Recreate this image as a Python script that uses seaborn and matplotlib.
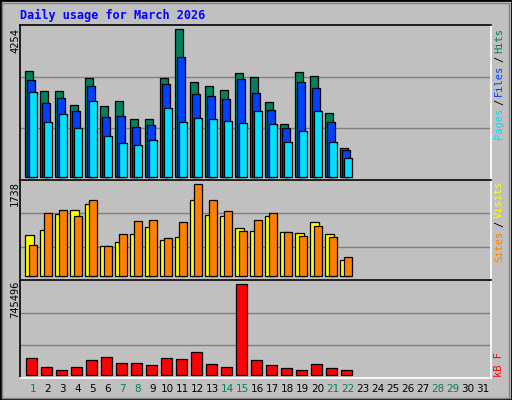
import matplotlib
matplotlib.use("Agg")
import matplotlib.pyplot as plt
import seaborn as sns
import numpy as np
import pandas as pd
from matplotlib.patches import Rectangle

days = list(range(1, 32))
hits = [3041, 2464, 2464, 2060, 2839, 2031, 2175, 1655, 1655, 2839, 4254, 2724, 2608, 2493, 2983, 2868, 2146, 1511, 3012, 2897, 1829, 818]
files = [2781, 2117, 2262, 1886, 2608, 1713, 1742, 1424, 1482, 2666, 3445, 2377, 2319, 2233, 2810, 2406, 1915, 1395, 2724, 2550, 1569, 760]
pages = [2435, 1569, 1800, 1395, 2175, 1165, 962, 905, 1049, 1973, 1569, 1684, 1655, 1598, 1540, 1886, 1511, 991, 1309, 1886, 991, 529]
visits = [775, 869, 1171, 1247, 1360, 567, 642, 793, 926, 680, 737, 1436, 1152, 1133, 907, 850, 1133, 831, 812, 1020, 793, 302]
sites = [586, 1190, 1247, 1133, 1436, 567, 793, 1039, 1058, 718, 1020, 1738, 1436, 1228, 850, 1058, 1190, 831, 756, 945, 737, 359]
kbytes = [139270, 65539, 40962, 65539, 122886, 147463, 98309, 98309, 81924, 139270, 131078, 188424, 90117, 65539, 745496, 122886, 81924, 57347, 40962, 90117, 57347, 40962]
weekend = [1, 7, 8, 14, 15, 21, 22, 28, 29]

sns.set_style("white")
plt.rcParams['font.family'] = ['DejaVu Sans Mono', 'DejaVu Sans']
BG = "#C0C0C0"
fig = plt.figure(figsize=(5.12, 4.0), dpi=100, facecolor=BG)
fig.patches.append(Rectangle((0, 0), 1, 1, transform=fig.transFigure, fill=False, edgecolor="black", lw=2))
fig.patches.append(Rectangle((0.004, 0.006), 0.99, 0.986, transform=fig.transFigure, fill=False, edgecolor="#808080", lw=1))

L, W = 20/512, 471/512
ax1 = fig.add_axes([L, 1-180/400, W, 155/400])
ax2 = fig.add_axes([L, 1-280/400, W, 100/400])
ax3 = fig.add_axes([L, 1-378/400, W, 98/400])
xl = (-0.353, -0.353 + 471/15)

n = len(hits)
x0 = np.arange(n)
def bars(ax, off, w, vals, color):
    ax.bar(x0 + off, vals, width=w, align='edge', color=color, edgecolor="black", linewidth=0.9, zorder=3)

bars(ax1, 0.0, 0.49, hits, "#00805C")
bars(ax1, 0.13, 0.49, files, "#0040FF")
bars(ax1, 0.27, 0.49, pages, "#00E0FF")
ax1.set_ylim(-95, 4378)
bars(ax2, 0.0, 0.55, visits, "#FFFF00")
bars(ax2, 0.8, 0.49, sites, "#FF8000") if False else bars(ax2, 0.27 + 0.53, 0.49, sites, "#FF8000") if False else bars(ax2, 0.8 - 0.53, 0.49, sites, "#FF8000")
ax2.set_ylim(-70, 1819)

df = pd.DataFrame({"x": x0 + 0.07 + 0.34, "kb": kbytes})
sns.barplot(data=df, x="x", y="kb", native_scale=True, width=0.68, color="#FF0000",
            edgecolor="black", linewidth=0.9, saturation=1, ax=ax3, zorder=3)
ax3.set_ylim(-22120, 780722)

for ax in (ax1, ax2, ax3):
    ax.set_facecolor(BG)
    ax.set_xlim(*xl)
    ax.set_xticks([]); ax.set_yticks([])
    ax.set_xlabel(""); ax.set_ylabel("")
    for f in (1/3, 2/3):
        ax.plot([0, 1], [f, f], transform=ax.transAxes, color="#808080", lw=1, zorder=1)
    for s in ("top", "left"):
        ax.spines[s].set_color("black")
    for s in ("bottom", "right"):
        ax.spines[s].set_color("white")
    for s in ax.spines.values():
        s.set_linewidth(1.2)

fig.text(20/512, 1-15/400, "Daily usage for March 2026", color="#0000FF", fontsize=8.5,
         fontweight="bold", va="center", ha="left")

def ltxt(y, s):
    fig.text(15/512, 1-y/400, s, rotation=90, ha="center", va="top", fontsize=7.5, color="black")
ltxt(28, "4254"); ltxt(181, "1738"); ltxt(281, "745496")

def rtxt(parts, ytop):
    y = ytop
    for s, c in parts:
        fig.text(499/512, 1-y/400, s, rotation=90, ha="center", va="top", fontsize=7.5, color=c)
        y += len(s)*6.2 + 3
rtxt([("Hits", "#00805C"), ("/", "black"), ("Files", "#0040FF"), ("/", "black"), ("Pages", "#00E0FF")], 28)
rtxt([("Visits", "#FFFF00"), ("/", "black"), ("Sites", "#FF8000")], 181)
rtxt([("kB F", "#FF0000")], 352)

for d in days:
    xp = (25.3 + 15*(d-1) + 7.5) / 512
    fig.text(xp, 1-389/400, str(d), ha="center", va="center", fontsize=7.5,
             color="#00805C" if d in weekend else "black", family="DejaVu Sans")

fig.savefig("out.png", dpi=100, facecolor=BG)
